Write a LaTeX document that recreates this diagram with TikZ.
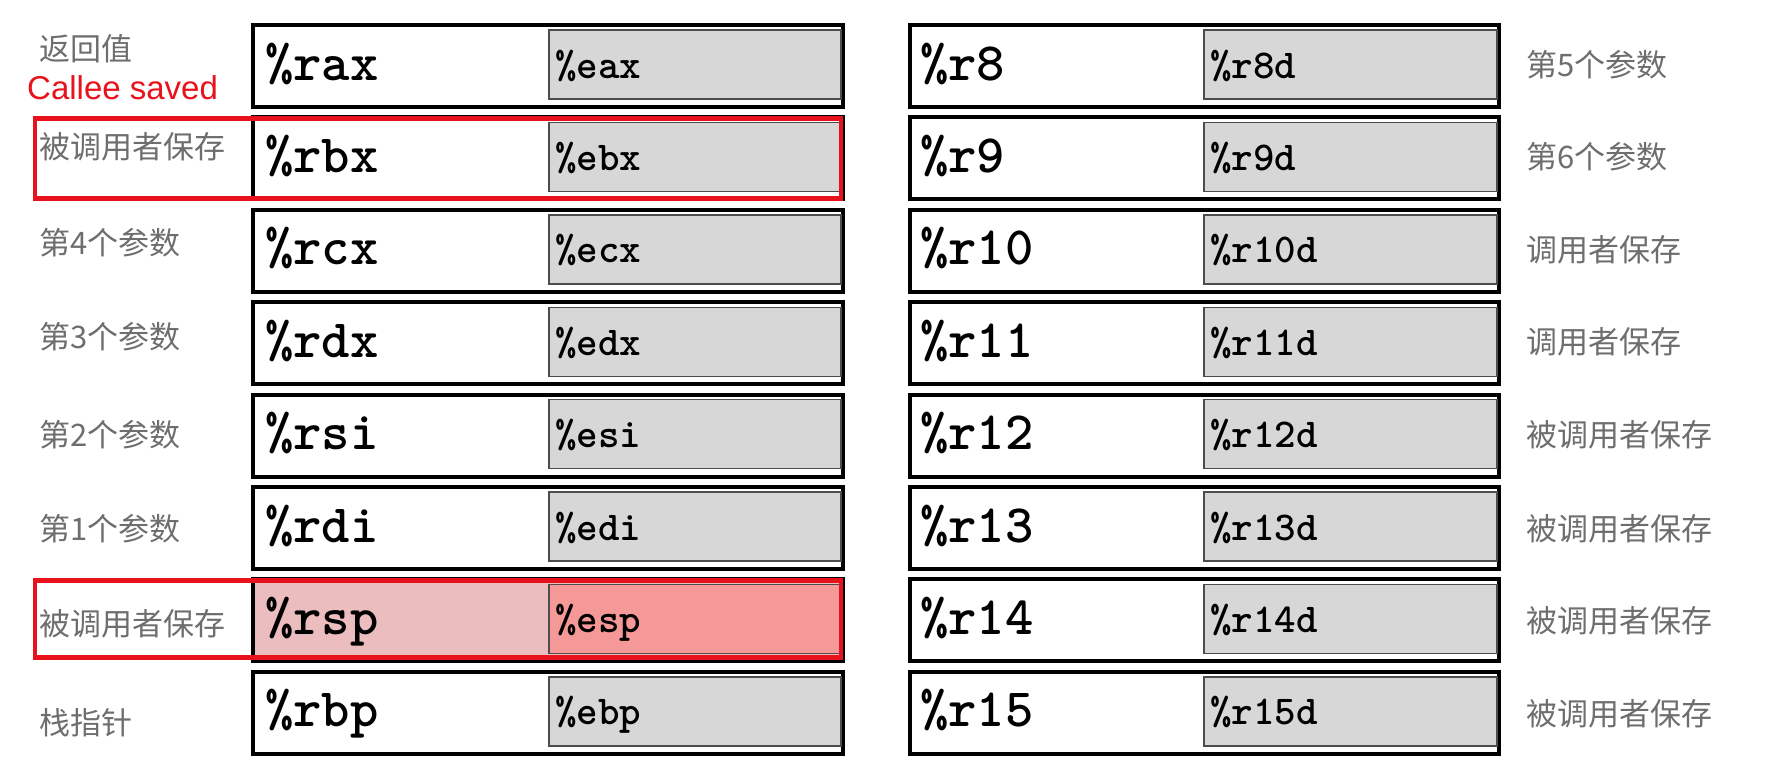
\documentclass[tikz,border=0pt]{standalone}
\usepackage{fontspec}
\newfontfamily\cjk{Noto Sans CJK SC}
\newfontfamily\regfont{lmmonolt10-bold.otf}
\newfontfamily\redsans{Liberation Sans}
\definecolor{lbl}{HTML}{6E6E6E}
\definecolor{grayfill}{HTML}{D7D7D7}
\definecolor{calleered}{HTML}{E8121C}
\definecolor{rsplight}{HTML}{EBBDBE}
\definecolor{rspdark}{HTML}{F59898}
\tikzset{
  outerbox/.style={draw=black, line width=4pt, fill=white, minimum width=590pt, minimum height=82pt,
    anchor=north west, inner sep=0pt, outer sep=0pt},
  innerbox/.style={draw=black!70, line width=1.4pt, fill=grayfill, minimum width=292pt, minimum height=69pt,
    anchor=north east, inner sep=0pt, outer sep=0pt},
  bigreg/.style={font=\regfont\fontsize{54}{54}\selectfont, anchor=base west, inner sep=0pt},
  smallreg/.style={font=\regfont\fontsize{41}{41}\selectfont, anchor=base west, inner sep=0pt},
  lbltext/.style={font=\cjk\fontsize{31}{31}\selectfont, text=lbl, anchor=west, inner sep=0pt},
  redframe/.style={draw=calleered, line width=4.5pt},
}
\begin{document}
\begin{tikzpicture}[x=1pt,y=-1pt]
\useasboundingbox[fill=white] (0,0) rectangle (1770,772);
% left column
\foreach \r/\s/\i in {rax/eax/0,rbx/ebx/1,rcx/ecx/2,rdx/edx/3,rsi/esi/4,rdi/edi/5,rsp/esp/6,rbp/ebp/7}{
  \node[outerbox] (\r) at (253,{25+92.4*\i}) {};
  \node[innerbox] (\r-sub) at ([xshift=-2pt,yshift=-5pt]\r.north east) {};
  \node[bigreg] (\r-txt) at ([xshift=12pt,yshift=-14pt]\r.west) {\%\r};
  \node[smallreg] (\r-subtxt) at ([xshift=6pt,yshift=-12pt]\r-sub.west |- \r.west) {\%\s};
}
% rsp highlight
\node[outerbox, fill=rsplight] (rsp) at (253,{25+92.4*6}) {};
\node[innerbox, fill=rspdark] (rsp-sub) at ([xshift=-2pt,yshift=-5pt]rsp.north east) {};
\node[bigreg] (rsp-txt) at ([xshift=12pt,yshift=-14pt]rsp.west) {\%rsp};
\node[smallreg] (rsp-subtxt) at ([xshift=6pt,yshift=-12pt]rsp-sub.west |- rsp.west) {\%esp};
% right column
\foreach \r/\i in {8/0,9/1,10/2,11/3,12/4,13/5,14/6,15/7}{
  \node[outerbox, minimum width=589pt] (r\r) at (910,{25+92.4*\i}) {};
  \node[innerbox, minimum width=293pt] (r\r-sub) at ([xshift=-2pt,yshift=-5pt]r\r.north east) {};
  \node[bigreg] (r\r-txt) at ([xshift=10pt,yshift=-14pt]r\r.west) {\%r\r};
  \node[smallreg] (r\r-subtxt) at ([xshift=6pt,yshift=-12pt]r\r-sub.west |- r\r.west) {\%r\r d};
}
% left labels
\node[lbltext] (l-rax) at (39,48.5) {返回值};
\node[lbltext] (l-rbx) at (39,146.7) {被调用者保存};
\node[lbltext] (l-rcx) at (39,242.7) {第4个参数};
\node[lbltext] (l-rdx) at (39,336.4) {第3个参数};
\node[lbltext] (l-rsi) at (39,434.6) {第2个参数};
\node[lbltext] (l-rdi) at (39,528.3) {第1个参数};
\node[lbltext] (l-rsp) at (39,624.2) {被调用者保存};
\node[lbltext] (l-rbp) at (39,722.4) {栈指针};
% right labels
\node[lbltext] (l-r8) at (1526,64.3) {第5个参数};
\node[lbltext] (l-r9) at (1526,156.9) {第6个参数};
\node[lbltext] (l-r10) at (1526,249.5) {调用者保存};
\node[lbltext] (l-r11) at (1526,342) {调用者保存};
\node[lbltext] (l-r12) at (1526,434.6) {被调用者保存};
\node[lbltext] (l-r13) at (1526,528.3) {被调用者保存};
\node[lbltext] (l-r14) at (1526,620.8) {被调用者保存};
\node[lbltext] (l-r15) at (1526,713.4) {被调用者保存};
% callee saved annotation
\node[font=\redsans\fontsize{33}{33}\selectfont, text=calleered, anchor=west, inner sep=0pt] (callee) at (27,88) {Callee saved};
\draw[redframe] ([xshift=-218pt,yshift=-1pt]rbx.north west) rectangle ([xshift=-2pt,yshift=1pt]rbx.south east);
\draw[redframe] ([xshift=-218pt,yshift=-1pt]rsp.north west) rectangle ([xshift=-2pt,yshift=4pt]rsp.south east);
\end{tikzpicture}
\end{document}
